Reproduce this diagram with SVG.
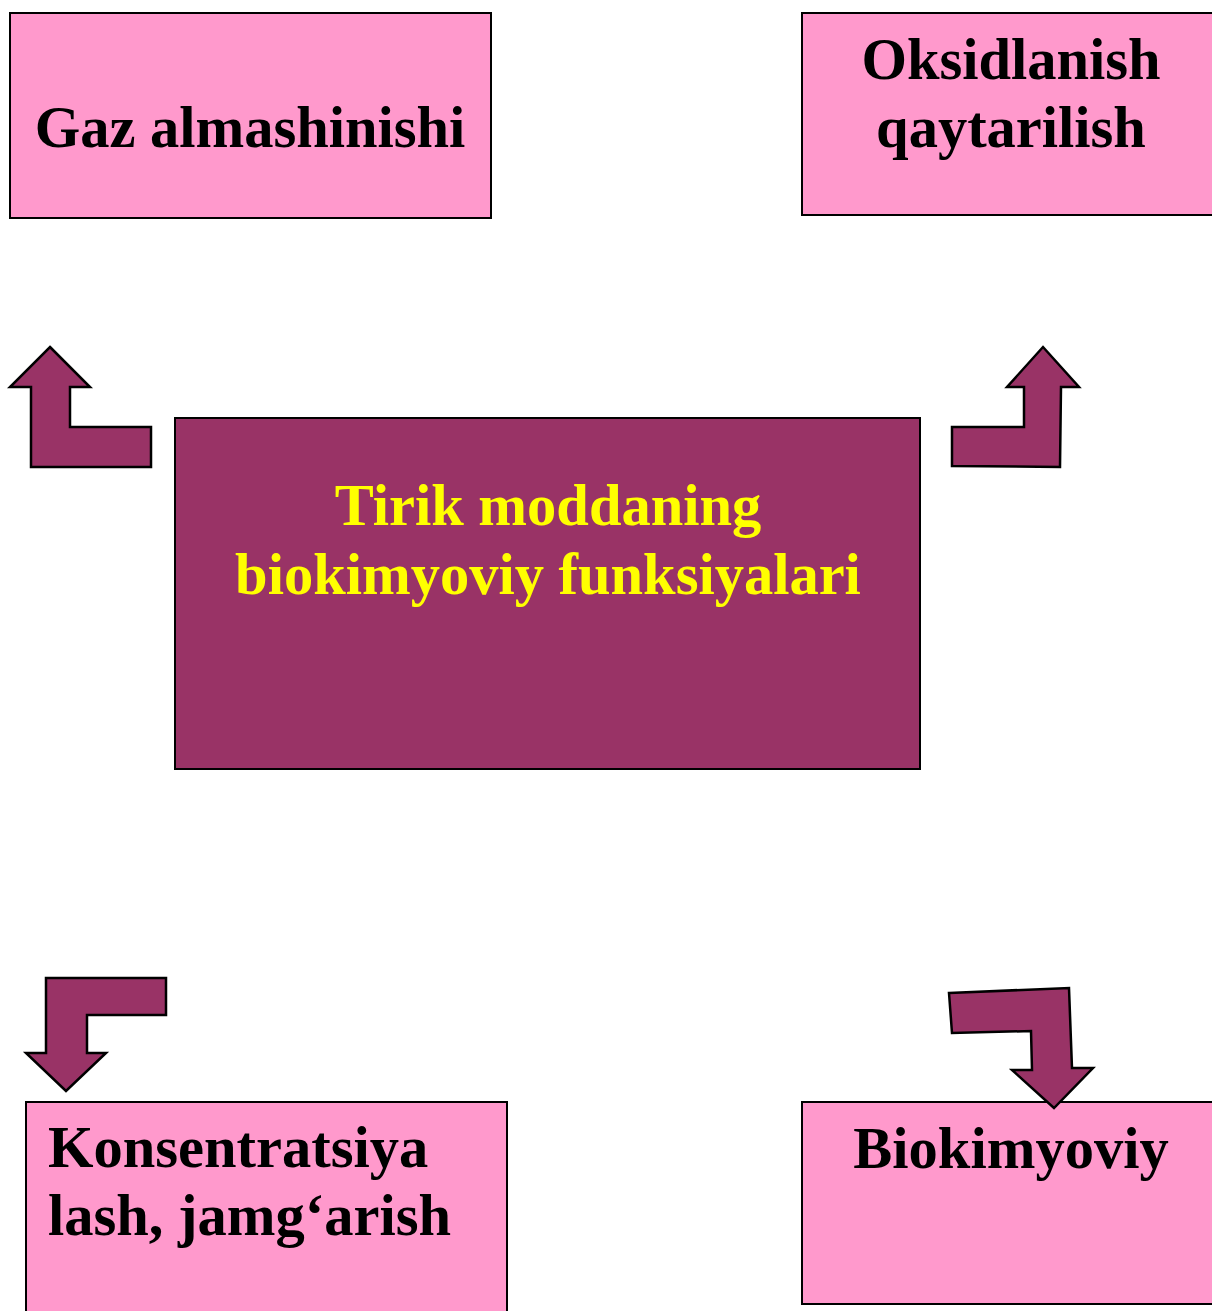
<svg xmlns="http://www.w3.org/2000/svg" width="1212" height="1311" viewBox="0 0 1212 1311">
  <style>
    .box { fill: #FF99CC; stroke: #000; stroke-width: 2; }
    .core { fill: #993366; stroke: #000; stroke-width: 2; }
    .arrow { fill: #993366; stroke: #000; stroke-width: 2.5; stroke-linejoin: miter; }
    .label { font-family: "Liberation Serif", "Times New Roman", serif; font-weight: bold; font-size: 58.5px; fill: #000; }
    .core-label { font-family: "Liberation Serif", "Times New Roman", serif; font-weight: bold; font-size: 58.5px; fill: #FFFF00; }
  </style>
  <rect width="1212" height="1311" fill="#FFFFFF"/>

  <g id="gaz-almashinishi">
    <rect class="box" x="10" y="13" width="481" height="205"/>
    <text class="label" x="250" y="147" text-anchor="middle">Gaz almashinishi</text>
  </g>

  <g id="oksidlanish">
    <rect class="box" x="802" y="13" width="420" height="202"/>
    <text class="label" x="1011" y="79" text-anchor="middle">Oksidlanish</text>
    <text class="label" x="1011" y="147" text-anchor="middle">qaytarilish</text>
  </g>

  <g id="tirik-modda">
    <rect class="core" x="175" y="418" width="745" height="351"/>
    <text class="core-label" x="548" y="525" text-anchor="middle">Tirik moddaning</text>
    <text class="core-label" x="548" y="594" text-anchor="middle">biokimyoviy funksiyalari</text>
  </g>

  <g id="konsentratsiya">
    <rect class="box" x="26" y="1102" width="481" height="220"/>
    <text class="label" x="48" y="1167">Konsentratsiya</text>
    <text class="label" x="48" y="1235">lash, jamg‘arish</text>
  </g>

  <g id="biokimyoviy">
    <rect class="box" x="802" y="1102" width="420" height="202"/>
    <text class="label" x="1011" y="1168" text-anchor="middle">Biokimyoviy</text>
  </g>

  <!-- bent block arrows leading from the centre to each corner box -->
  <g id="connectors">
    <polygon class="arrow" points="50,347 90,387 70,387 70,427 151,427 151,467 31,467 31,387 10,387"/>
    <polygon class="arrow" points="1043,347 1079,387 1061,387 1060,467 952,466 952,427 1024,427 1024,387 1007,387"/>
    <polygon class="arrow" points="46,978 166,978 166,1015 87,1015 87,1053 106,1053 66,1091 26,1053 46,1053"/>
    <polygon class="arrow" points="949,993 1069,988 1072,1068 1093,1068 1054,1108 1012,1070 1032,1070 1031,1031 952,1033"/>
  </g>
</svg>
